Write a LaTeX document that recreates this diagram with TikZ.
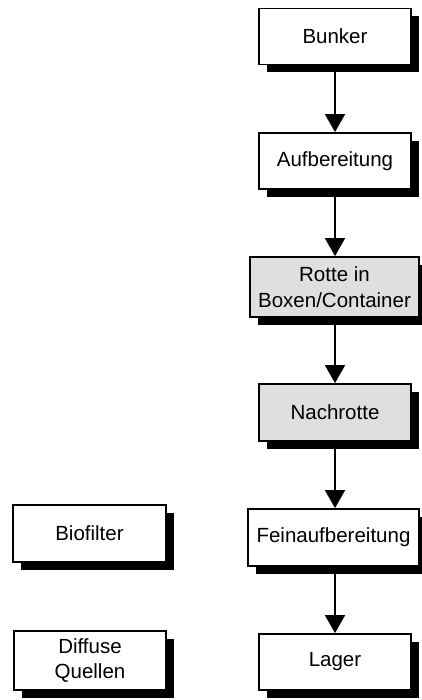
\documentclass[tikz,border=0pt]{standalone}
\usepackage{fontspec}
\setmainfont{Liberation Sans}
\usetikzlibrary{shadows,arrows.meta}
\begin{document}
\begin{tikzpicture}[x=1pt,y=-1pt,
  box/.style={draw=black, line width=1.8pt, fill=white, inner sep=0pt,
    minimum width=152pt, minimum height=56pt, align=center,
    font=\fontsize{20.5}{25.5}\selectfont,
    drop shadow={shadow xshift=8pt, shadow yshift=-8pt, fill=black, opacity=1}},
  graybox/.style={box, fill=gray!25},
  flow/.style={line width=1.8pt, -{Triangle[length=18pt,width=20pt]}}]
\useasboundingbox (0,0) rectangle (421,700);
\node[box] (bunker) at (335,36.5) {Bunker};
\node[box] (aufb) at (335,161) {Aufbereitung};
\node[graybox, minimum width=169pt, minimum height=60pt] (rotte) at (334.5,287) {Rotte in\\Boxen/Container};
\node[graybox, minimum height=57pt] (nach) at (335,412.5) {Nachrotte};
\node[box, minimum width=171pt, minimum height=57pt] (fein) at (333.5,537.5) {Feinaufbereitung};
\node[box] (lager) at (335,662) {Lager};
\node[box, minimum width=153pt, minimum height=57pt] (bio) at (89.5,533.5) {Biofilter};
\node[box, minimum height=59pt] (diff) at (90,660.5) {Diffuse\\Quellen};
\draw[flow] (bunker.south) -- (bunker.south |- aufb.north);
\draw[flow] (aufb.south) -- (aufb.south |- rotte.north);
\draw[flow] (rotte.south -| aufb.south) -- (aufb.south |- nach.north);
\draw[flow] (nach.south) -- (nach.south |- fein.north);
\draw[flow] (fein.south -| nach.south) -- (nach.south |- lager.north);
\end{tikzpicture}
\end{document}
